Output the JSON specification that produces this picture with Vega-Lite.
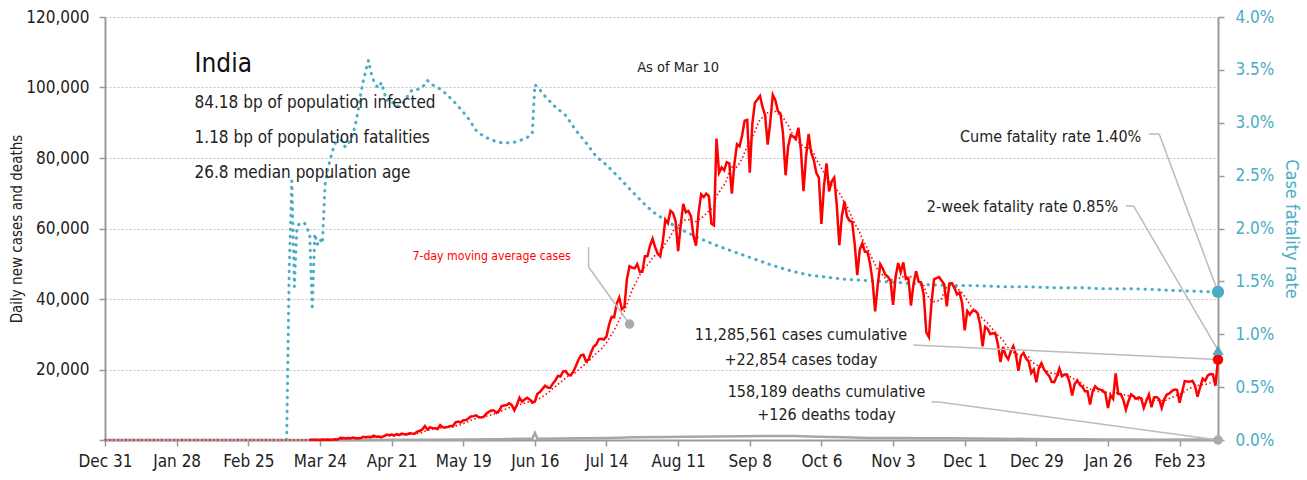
{
"$schema":"https://vega.github.io/schema/vega-lite/v6.json",
"width":1113,"height":423,"autosize":"none",
"padding":{"left":105,"top":17,"right":89,"bottom":40},
"background":"white",
"config":{"font":"DejaVu Sans Condensed, Roboto Condensed, Roboto, sans-serif","view":{"stroke":null},
"axis":{"labelFont":"DejaVu Sans Condensed, Roboto Condensed, Roboto, sans-serif","titleFont":"DejaVu Sans Condensed, Roboto Condensed, Roboto, sans-serif","labelFontSize":17,"labelColor":"#222","titleFontWeight":"normal","titleColor":"#222","domainColor":"#9a9a9a","domainWidth":2,"tickColor":"#9a9a9a","tickWidth":1.5,"tickSize":6,"gridColor":"#c4c4c4","gridDash":[2,2],"gridWidth":1}},
"datasets":{
"cases":[
{"d":"2019-12-31","v":0},{"d":"2020-01-30","v":0},{"d":"2020-02-29","v":0},
{"d":"2020-03-01","v":0},{"d":"2020-03-02","v":2},{"d":"2020-03-03","v":1},{"d":"2020-03-04","v":22},{"d":"2020-03-05","v":2},{"d":"2020-03-06","v":1},{"d":"2020-03-07","v":3},{"d":"2020-03-08","v":5},{"d":"2020-03-09","v":9},{"d":"2020-03-10","v":15},{"d":"2020-03-11","v":8},{"d":"2020-03-12","v":10},{"d":"2020-03-13","v":10},{"d":"2020-03-14","v":23},{"d":"2020-03-15","v":27},{"d":"2020-03-16","v":15},{"d":"2020-03-17","v":29},{"d":"2020-03-18","v":14},{"d":"2020-03-19","v":38},{"d":"2020-03-20","v":50},{"d":"2020-03-21","v":86},{"d":"2020-03-22","v":66},{"d":"2020-03-23","v":103},{"d":"2020-03-24","v":37},{"d":"2020-03-25","v":121},{"d":"2020-03-26","v":70},{"d":"2020-03-27","v":160},{"d":"2020-03-28","v":100},{"d":"2020-03-29","v":78},{"d":"2020-03-30","v":227},{"d":"2020-03-31","v":146},
{"d":"2020-04-01","v":601},{"d":"2020-04-02","v":545},{"d":"2020-04-03","v":478},{"d":"2020-04-04","v":577},{"d":"2020-04-05","v":505},{"d":"2020-04-06","v":704},{"d":"2020-04-07","v":508},{"d":"2020-04-08","v":485},{"d":"2020-04-09","v":591},{"d":"2020-04-10","v":896},{"d":"2020-04-11","v":768},{"d":"2020-04-12","v":918},{"d":"2020-04-13","v":796},{"d":"2020-04-14","v":1211},{"d":"2020-04-15","v":941},{"d":"2020-04-16","v":1007},{"d":"2020-04-17","v":826},{"d":"2020-04-18","v":1076},{"d":"2020-04-19","v":1553},{"d":"2020-04-20","v":1334},{"d":"2020-04-21","v":1540},{"d":"2020-04-22","v":1290},{"d":"2020-04-23","v":1667},{"d":"2020-04-24","v":1408},{"d":"2020-04-25","v":1835},{"d":"2020-04-26","v":1607},{"d":"2020-04-27","v":1561},{"d":"2020-04-28","v":1902},{"d":"2020-04-29","v":1813},{"d":"2020-04-30","v":1801},
{"d":"2020-05-01","v":2396},{"d":"2020-05-02","v":2564},{"d":"2020-05-03","v":2952},{"d":"2020-05-04","v":3932},{"d":"2020-05-05","v":2963},{"d":"2020-05-06","v":3587},{"d":"2020-05-07","v":3364},{"d":"2020-05-08","v":3344},{"d":"2020-05-09","v":3113},{"d":"2020-05-10","v":4213},{"d":"2020-05-11","v":3604},{"d":"2020-05-12","v":3525},{"d":"2020-05-13","v":3722},{"d":"2020-05-14","v":3967},{"d":"2020-05-15","v":3970},{"d":"2020-05-16","v":4987},{"d":"2020-05-17","v":5242},{"d":"2020-05-18","v":4970},{"d":"2020-05-19","v":5611},{"d":"2020-05-20","v":5609},{"d":"2020-05-21","v":6088},{"d":"2020-05-22","v":6654},{"d":"2020-05-23","v":6767},{"d":"2020-05-24","v":6977},{"d":"2020-05-25","v":6535},{"d":"2020-05-26","v":6387},{"d":"2020-05-27","v":6566},{"d":"2020-05-28","v":7466},{"d":"2020-05-29","v":7964},{"d":"2020-05-30","v":8380},{"d":"2020-05-31","v":8392},
{"d":"2020-06-01","v":7700},{"d":"2020-06-02","v":8200},{"d":"2020-06-03","v":9600},{"d":"2020-06-04","v":9800},{"d":"2020-06-05","v":9900},{"d":"2020-06-06","v":10400},{"d":"2020-06-07","v":9900},{"d":"2020-06-08","v":8400},{"d":"2020-06-09","v":10000},{"d":"2020-06-10","v":12000},{"d":"2020-06-11","v":10900},{"d":"2020-06-12","v":11500},{"d":"2020-06-13","v":12000},{"d":"2020-06-14","v":11500},{"d":"2020-06-15","v":10600},{"d":"2020-06-16","v":10900},{"d":"2020-06-17","v":13100},{"d":"2020-06-18","v":13600},{"d":"2020-06-19","v":14500},{"d":"2020-06-20","v":15400},{"d":"2020-06-21","v":14900},{"d":"2020-06-22","v":14800},{"d":"2020-06-23","v":16000},{"d":"2020-06-24","v":16900},{"d":"2020-06-25","v":18200},{"d":"2020-06-26","v":18000},{"d":"2020-06-27","v":19400},{"d":"2020-06-28","v":19600},{"d":"2020-06-29","v":18600},{"d":"2020-06-30","v":18300},
{"d":"2020-07-01","v":19400},{"d":"2020-07-02","v":20900},{"d":"2020-07-03","v":22700},{"d":"2020-07-04","v":24000},{"d":"2020-07-05","v":24200},{"d":"2020-07-06","v":22300},{"d":"2020-07-07","v":22800},{"d":"2020-07-08","v":24900},{"d":"2020-07-09","v":26500},{"d":"2020-07-10","v":27100},{"d":"2020-07-11","v":28600},{"d":"2020-07-12","v":28700},{"d":"2020-07-13","v":28500},{"d":"2020-07-14","v":29400},{"d":"2020-07-15","v":32700},{"d":"2020-07-16","v":34900},{"d":"2020-07-17","v":34800},{"d":"2020-07-18","v":38700},{"d":"2020-07-19","v":40400},{"d":"2020-07-20","v":37100},{"d":"2020-07-21","v":37700},{"d":"2020-07-22","v":45700},{"d":"2020-07-23","v":49300},{"d":"2020-07-24","v":48900},{"d":"2020-07-25","v":48700},{"d":"2020-07-26","v":49900},{"d":"2020-07-27","v":47700},{"d":"2020-07-28","v":47700},{"d":"2020-07-29","v":52100},{"d":"2020-07-30","v":52100},{"d":"2020-07-31","v":55100},
{"d":"2020-08-01","v":57100},{"d":"2020-08-02","v":54700},{"d":"2020-08-03","v":52900},{"d":"2020-08-04","v":52100},{"d":"2020-08-05","v":56300},{"d":"2020-08-06","v":62500},{"d":"2020-08-07","v":61500},{"d":"2020-08-08","v":65000},{"d":"2020-08-09","v":64400},{"d":"2020-08-10","v":62100},{"d":"2020-08-11","v":53600},{"d":"2020-08-12","v":60900},{"d":"2020-08-13","v":67000},{"d":"2020-08-14","v":64600},{"d":"2020-08-15","v":65000},{"d":"2020-08-16","v":63500},{"d":"2020-08-17","v":57900},{"d":"2020-08-18","v":55100},{"d":"2020-08-19","v":64500},{"d":"2020-08-20","v":69700},{"d":"2020-08-21","v":68900},{"d":"2020-08-22","v":69900},{"d":"2020-08-23","v":69200},{"d":"2020-08-24","v":61400},{"d":"2020-08-25","v":60900},{"d":"2020-08-26","v":85500},{"d":"2020-08-27","v":75800},{"d":"2020-08-28","v":77300},{"d":"2020-08-29","v":76500},{"d":"2020-08-30","v":78800},{"d":"2020-08-31","v":78500},
{"d":"2020-09-01","v":69900},{"d":"2020-09-02","v":78400},{"d":"2020-09-03","v":83900},{"d":"2020-09-04","v":83300},{"d":"2020-09-05","v":86400},{"d":"2020-09-06","v":90600},{"d":"2020-09-07","v":90800},{"d":"2020-09-08","v":75800},{"d":"2020-09-09","v":89700},{"d":"2020-09-10","v":95700},{"d":"2020-09-11","v":96600},{"d":"2020-09-12","v":97600},{"d":"2020-09-13","v":94400},{"d":"2020-09-14","v":92100},{"d":"2020-09-15","v":83800},{"d":"2020-09-16","v":90100},{"d":"2020-09-17","v":97900},{"d":"2020-09-18","v":96400},{"d":"2020-09-19","v":93300},{"d":"2020-09-20","v":92600},{"d":"2020-09-21","v":86900},{"d":"2020-09-22","v":75100},{"d":"2020-09-23","v":83300},{"d":"2020-09-24","v":86500},{"d":"2020-09-25","v":86100},{"d":"2020-09-26","v":85400},{"d":"2020-09-27","v":88600},{"d":"2020-09-28","v":82200},{"d":"2020-09-29","v":70600},{"d":"2020-09-30","v":80500},
{"d":"2020-10-01","v":86800},{"d":"2020-10-02","v":81500},{"d":"2020-10-03","v":79500},{"d":"2020-10-04","v":75800},{"d":"2020-10-05","v":74400},{"d":"2020-10-06","v":61300},{"d":"2020-10-07","v":72000},{"d":"2020-10-08","v":78500},{"d":"2020-10-09","v":70500},{"d":"2020-10-10","v":73300},{"d":"2020-10-11","v":74400},{"d":"2020-10-12","v":66700},{"d":"2020-10-13","v":55300},{"d":"2020-10-14","v":63500},{"d":"2020-10-15","v":67700},{"d":"2020-10-16","v":63400},{"d":"2020-10-17","v":62200},{"d":"2020-10-18","v":61900},{"d":"2020-10-19","v":55700},{"d":"2020-10-20","v":46800},{"d":"2020-10-21","v":54000},{"d":"2020-10-22","v":55800},{"d":"2020-10-23","v":53400},{"d":"2020-10-24","v":53400},{"d":"2020-10-25","v":50100},{"d":"2020-10-26","v":45100},{"d":"2020-10-27","v":36500},{"d":"2020-10-28","v":43900},{"d":"2020-10-29","v":49900},{"d":"2020-10-30","v":48600},{"d":"2020-10-31","v":46900},
{"d":"2020-11-01","v":46300},{"d":"2020-11-02","v":45200},{"d":"2020-11-03","v":38300},{"d":"2020-11-04","v":46300},{"d":"2020-11-05","v":50200},{"d":"2020-11-06","v":47600},{"d":"2020-11-07","v":50400},{"d":"2020-11-08","v":45700},{"d":"2020-11-09","v":45900},{"d":"2020-11-10","v":38100},{"d":"2020-11-11","v":44300},{"d":"2020-11-12","v":47900},{"d":"2020-11-13","v":44900},{"d":"2020-11-14","v":44700},{"d":"2020-11-15","v":41100},{"d":"2020-11-16","v":30500},{"d":"2020-11-17","v":29200},{"d":"2020-11-18","v":38600},{"d":"2020-11-19","v":45600},{"d":"2020-11-20","v":45900},{"d":"2020-11-21","v":46200},{"d":"2020-11-22","v":45200},{"d":"2020-11-23","v":44100},{"d":"2020-11-24","v":37900},{"d":"2020-11-25","v":44400},{"d":"2020-11-26","v":44500},{"d":"2020-11-27","v":43100},{"d":"2020-11-28","v":41300},{"d":"2020-11-29","v":41800},{"d":"2020-11-30","v":38800},
{"d":"2020-12-01","v":31100},{"d":"2020-12-02","v":36600},{"d":"2020-12-03","v":35600},{"d":"2020-12-04","v":36600},{"d":"2020-12-05","v":36700},{"d":"2020-12-06","v":36000},{"d":"2020-12-07","v":32900},{"d":"2020-12-08","v":26600},{"d":"2020-12-09","v":32100},{"d":"2020-12-10","v":31500},{"d":"2020-12-11","v":30000},{"d":"2020-12-12","v":30300},{"d":"2020-12-13","v":30200},{"d":"2020-12-14","v":27100},{"d":"2020-12-15","v":22100},{"d":"2020-12-16","v":26400},{"d":"2020-12-17","v":24000},{"d":"2020-12-18","v":22900},{"d":"2020-12-19","v":25100},{"d":"2020-12-20","v":26600},{"d":"2020-12-21","v":24300},{"d":"2020-12-22","v":19600},{"d":"2020-12-23","v":23900},{"d":"2020-12-24","v":24700},{"d":"2020-12-25","v":23100},{"d":"2020-12-26","v":22300},{"d":"2020-12-27","v":19000},{"d":"2020-12-28","v":20000},{"d":"2020-12-29","v":16400},{"d":"2020-12-30","v":20500},{"d":"2020-12-31","v":21800},
{"d":"2021-01-01","v":20000},{"d":"2021-01-02","v":19000},{"d":"2021-01-03","v":18200},{"d":"2021-01-04","v":16500},{"d":"2021-01-05","v":16400},{"d":"2021-01-06","v":18100},{"d":"2021-01-07","v":20300},{"d":"2021-01-08","v":18100},{"d":"2021-01-09","v":18600},{"d":"2021-01-10","v":18600},{"d":"2021-01-11","v":16300},{"d":"2021-01-12","v":12600},{"d":"2021-01-13","v":15900},{"d":"2021-01-14","v":16900},{"d":"2021-01-15","v":15600},{"d":"2021-01-16","v":15100},{"d":"2021-01-17","v":13800},{"d":"2021-01-18","v":13800},{"d":"2021-01-19","v":10100},{"d":"2021-01-20","v":13800},{"d":"2021-01-21","v":15200},{"d":"2021-01-22","v":14500},{"d":"2021-01-23","v":14300},{"d":"2021-01-24","v":14000},{"d":"2021-01-25","v":13200},{"d":"2021-01-26","v":9100},{"d":"2021-01-27","v":12700},{"d":"2021-01-28","v":11700},{"d":"2021-01-29","v":18900},{"d":"2021-01-30","v":13100},{"d":"2021-01-31","v":13000},
{"d":"2021-02-01","v":11400},{"d":"2021-02-02","v":8600},{"d":"2021-02-03","v":11000},{"d":"2021-02-04","v":12900},{"d":"2021-02-05","v":12400},{"d":"2021-02-06","v":11700},{"d":"2021-02-07","v":12100},{"d":"2021-02-08","v":11800},{"d":"2021-02-09","v":9100},{"d":"2021-02-10","v":11100},{"d":"2021-02-11","v":12900},{"d":"2021-02-12","v":9300},{"d":"2021-02-13","v":12100},{"d":"2021-02-14","v":12200},{"d":"2021-02-15","v":11600},{"d":"2021-02-16","v":9100},{"d":"2021-02-17","v":11600},{"d":"2021-02-18","v":12900},{"d":"2021-02-19","v":13200},{"d":"2021-02-20","v":13900},{"d":"2021-02-21","v":14300},{"d":"2021-02-22","v":14200},{"d":"2021-02-23","v":10600},{"d":"2021-02-24","v":13700},{"d":"2021-02-25","v":16700},{"d":"2021-02-26","v":16600},{"d":"2021-02-27","v":16500},{"d":"2021-02-28","v":16800},
{"d":"2021-03-01","v":15500},{"d":"2021-03-02","v":12300},{"d":"2021-03-03","v":14900},{"d":"2021-03-04","v":17400},{"d":"2021-03-05","v":16800},{"d":"2021-03-06","v":18300},{"d":"2021-03-07","v":18700},{"d":"2021-03-08","v":18600},{"d":"2021-03-09","v":15400},{"d":"2021-03-10","v":22854}],
"deaths":[
{"d":"2019-12-31","v":0},{"d":"2020-03-10","v":0},{"d":"2020-03-25","v":3},{"d":"2020-04-05","v":30},{"d":"2020-04-20","v":40},{"d":"2020-05-05","v":100},{"d":"2020-05-20","v":130},{"d":"2020-06-01","v":230},{"d":"2020-06-10","v":350},{"d":"2020-06-15","v":330},{"d":"2020-06-16","v":2003},{"d":"2020-06-17","v":340},{"d":"2020-06-25","v":400},{"d":"2020-07-05","v":500},{"d":"2020-07-15","v":600},{"d":"2020-07-25","v":750},{"d":"2020-08-05","v":850},{"d":"2020-08-15","v":950},{"d":"2020-08-25","v":1000},{"d":"2020-09-05","v":1050},{"d":"2020-09-15","v":1150},{"d":"2020-09-25","v":1100},{"d":"2020-10-05","v":950},{"d":"2020-10-15","v":800},{"d":"2020-10-25","v":600},{"d":"2020-11-05","v":550},{"d":"2020-11-15","v":500},{"d":"2020-11-25","v":500},{"d":"2020-12-05","v":450},{"d":"2020-12-15","v":350},{"d":"2020-12-25","v":300},{"d":"2021-01-05","v":230},{"d":"2021-01-15","v":180},{"d":"2021-01-25","v":140},{"d":"2021-02-05","v":110},{"d":"2021-02-15","v":100},{"d":"2021-02-25","v":110},{"d":"2021-03-05","v":110},{"d":"2021-03-10","v":126}],
"cfr":[
{"d":"2019-12-31","r":0},{"d":"2020-03-11","r":0},{"d":"2020-03-12","r":0.016},{"d":"2020-03-13","r":0.0245},{"d":"2020-03-14","r":0.0145},{"d":"2020-03-15","r":0.02},{"d":"2020-03-16","r":0.0205},{"d":"2020-03-17","r":0.0205},{"d":"2020-03-18","r":0.0205},{"d":"2020-03-19","r":0.02},{"d":"2020-03-20","r":0.0195},{"d":"2020-03-21","r":0.0123},{"d":"2020-03-22","r":0.0195},{"d":"2020-03-23","r":0.0185},{"d":"2020-03-24","r":0.019},{"d":"2020-03-25","r":0.0186},{"d":"2020-03-26","r":0.0241},{"d":"2020-03-27","r":0.0255},{"d":"2020-03-28","r":0.0265},{"d":"2020-03-29","r":0.0274},{"d":"2020-03-30","r":0.028},{"d":"2020-03-31","r":0.0288},{"d":"2020-04-01","r":0.0285},{"d":"2020-04-02","r":0.028},{"d":"2020-04-03","r":0.0277},{"d":"2020-04-04","r":0.028},{"d":"2020-04-05","r":0.0284},{"d":"2020-04-06","r":0.029},{"d":"2020-04-07","r":0.03},{"d":"2020-04-08","r":0.0312},{"d":"2020-04-09","r":0.0328},{"d":"2020-04-10","r":0.034},{"d":"2020-04-11","r":0.035},{"d":"2020-04-12","r":0.0359},{"d":"2020-04-13","r":0.0347},{"d":"2020-04-14","r":0.034},{"d":"2020-04-15","r":0.0335},{"d":"2020-04-16","r":0.0333},{"d":"2020-04-17","r":0.0338},{"d":"2020-04-18","r":0.033},{"d":"2020-04-19","r":0.0321},{"d":"2020-04-20","r":0.0322},{"d":"2020-04-21","r":0.032},{"d":"2020-04-22","r":0.0318},{"d":"2020-04-23","r":0.0315},{"d":"2020-04-24","r":0.0316},{"d":"2020-04-25","r":0.0317},{"d":"2020-04-26","r":0.032},{"d":"2020-04-27","r":0.0324},{"d":"2020-04-28","r":0.0328},{"d":"2020-04-29","r":0.0331},{"d":"2020-04-30","r":0.0331},{"d":"2020-05-02","r":0.0332},{"d":"2020-05-04","r":0.0336},{"d":"2020-05-05","r":0.034},{"d":"2020-05-06","r":0.0338},{"d":"2020-05-08","r":0.0334},{"d":"2020-05-10","r":0.0332},{"d":"2020-05-12","r":0.0328},{"d":"2020-05-15","r":0.0321},{"d":"2020-05-18","r":0.0313},{"d":"2020-05-21","r":0.0304},{"d":"2020-05-24","r":0.0293},{"d":"2020-05-27","r":0.0287},{"d":"2020-05-31","r":0.0283},{"d":"2020-06-03","r":0.0281},{"d":"2020-06-07","r":0.0281},{"d":"2020-06-10","r":0.0283},{"d":"2020-06-13","r":0.0286},{"d":"2020-06-15","r":0.029},{"d":"2020-06-16","r":0.0336},{"d":"2020-06-17","r":0.0334},{"d":"2020-06-20","r":0.0325},{"d":"2020-06-24","r":0.0315},{"d":"2020-06-28","r":0.0307},{"d":"2020-07-02","r":0.0293},{"d":"2020-07-06","r":0.0281},{"d":"2020-07-10","r":0.0268},{"d":"2020-07-14","r":0.026},{"d":"2020-07-19","r":0.0248},{"d":"2020-07-24","r":0.0235},{"d":"2020-07-28","r":0.0225},{"d":"2020-08-01","r":0.0216},{"d":"2020-08-07","r":0.0206},{"d":"2020-08-13","r":0.0198},{"d":"2020-08-20","r":0.019},{"d":"2020-08-27","r":0.0183},{"d":"2020-09-03","r":0.0177},{"d":"2020-09-10","r":0.0171},{"d":"2020-09-17","r":0.0165},{"d":"2020-09-24","r":0.016},{"d":"2020-10-01","r":0.0156},{"d":"2020-10-08","r":0.0154},{"d":"2020-10-15","r":0.0152},{"d":"2020-10-22","r":0.0151},{"d":"2020-10-29","r":0.015},{"d":"2020-11-05","r":0.0149},{"d":"2020-11-15","r":0.0147},{"d":"2020-11-25","r":0.0146},{"d":"2020-12-05","r":0.0146},{"d":"2020-12-15","r":0.0145},{"d":"2020-12-25","r":0.0145},{"d":"2021-01-05","r":0.0144},{"d":"2021-01-15","r":0.0144},{"d":"2021-01-25","r":0.0143},{"d":"2021-02-05","r":0.0143},{"d":"2021-02-15","r":0.0142},{"d":"2021-02-25","r":0.0141},{"d":"2021-03-10","r":0.014}],
"rates":[{"d":"2021-03-10","r":0.014,"k":"cume"},{"d":"2021-03-10","r":0.0085,"k":"twoweek"}],
"notes":[
{"g":"title","d":"2020-02-04","v":104400,"t":"India"},
{"g":"sub","d":"2020-02-04","v":94200,"t":"84.18 bp of population infected"},
{"g":"sub","d":"2020-02-04","v":84260,"t":"1.18 bp of population fatalities"},
{"g":"sub","d":"2020-02-04","v":74330,"t":"26.8 median population age"},
{"g":"asof","d":"2020-08-11","v":104400,"t":"As of Mar 10"},
{"g":"ma","d":"2020-06-30","v":51070,"t":"7-day moving average cases"},
{"g":"lab","d":"2021-02-08","v":84600,"t":"Cume fatality rate 1.40%"},
{"g":"lab","d":"2021-01-30","v":64770,"t":"2-week fatality rate 0.85%"},
{"g":"mid","d":"2020-09-28","v":28370,"t":"11,285,561 cases cumulative"},
{"g":"mid","d":"2020-09-28","v":21280,"t":"+22,854 cases today"},
{"g":"mid","d":"2020-10-08","v":12200,"t":"158,189 deaths cumulative"},
{"g":"mid","d":"2020-10-08","v":5670,"t":"+126 deaths today"}],
"leaders":[
{"d":"2020-07-07","v":54750,"d2":"2020-07-07","v2":49080},
{"d":"2020-07-07","v":49080,"d2":"2020-07-23","v2":32900},
{"d":"2021-02-11","v":86800,"d2":"2021-02-15","v2":86800},
{"d":"2021-02-15","v":86800,"d2":"2021-03-10","v2":42000},
{"d":"2021-02-02","v":66390,"d2":"2021-02-05","v2":66390},
{"d":"2021-02-05","v":66390,"d2":"2021-03-10","v2":25500},
{"d":"2020-11-11","v":26950,"d2":"2021-03-10","v2":22854},
{"d":"2020-11-18","v":10780,"d2":"2020-11-21","v2":10780},
{"d":"2020-11-21","v":10780,"d2":"2021-03-10","v2":0}],
"dots":[{"d":"2020-07-23","v":32900,"k":"ma"},{"d":"2021-03-10","v":0,"k":"deaths"}],
"lastcase":[{"d":"2021-03-10","v":22854}]
},
"encoding":{"x":{"field":"d","type":"temporal","title":null,
"scale":{"domain":[{"year":2019,"month":12,"date":31},{"year":2021,"month":3,"date":10}]},
"axis":{"format":"%b %-d","grid":false,"labelPadding":7,"labelOverlap":false,"labelFlush":false,
"values":[{"year":2019,"month":12,"date":31},{"year":2020,"month":1,"date":28},{"year":2020,"month":2,"date":25},{"year":2020,"month":3,"date":24},{"year":2020,"month":4,"date":21},{"year":2020,"month":5,"date":19},{"year":2020,"month":6,"date":16},{"year":2020,"month":7,"date":14},{"year":2020,"month":8,"date":11},{"year":2020,"month":9,"date":8},{"year":2020,"month":10,"date":6},{"year":2020,"month":11,"date":3},{"year":2020,"month":12,"date":1},{"year":2020,"month":12,"date":29},{"year":2021,"month":1,"date":26},{"year":2021,"month":2,"date":23}]}}},
"layer":[
{"data":{"name":"cfr"},"mark":{"type":"line","color":"#4bacc6","strokeWidth":3,"strokeDash":[0.5,6.5],"strokeCap":"round","interpolate":"linear"},
"encoding":{"y":{"field":"r","type":"quantitative","scale":{"domain":[0,0.04]},
"axis":{"orient":"right","format":".1%","values":[0,0.005,0.01,0.015,0.02,0.025,0.03,0.035,0.04],"grid":false,"labelColor":"#4bacc6","labelPadding":11,"title":"Case fatality rate","titleColor":"#4bacc6","titleFontSize":18,"titlePadding":8}}}},
{"layer":[
{"data":{"name":"deaths"},"mark":{"type":"line","color":"#a6a6a6","strokeWidth":2.5},
"encoding":{"y":{"field":"v","type":"quantitative","scale":{"domain":[0,120000]},
"axis":{"orient":"left","values":[0,20000,40000,60000,80000,100000,120000],"labelExpr":"datum.value == 0 ? '' : format(datum.value, ',')","grid":true,"labelPadding":10,"title":"Daily new cases and deaths","titleFontSize":15,"titlePadding":1}}}},
{"data":{"name":"cases"},"transform":[{"filter":"time(datum.d) >= time(datetime(2020, 2, 20))"}],"mark":{"type":"line","color":"#ff0000","strokeWidth":2.5},
"encoding":{"y":{"field":"v","type":"quantitative"}}},
{"data":{"name":"cases"},"transform":[{"window":[{"op":"mean","field":"v","as":"ma"}],"frame":[-6,0],"sort":[{"field":"d"}]}],"mark":{"type":"line","color":"#ff0000","strokeWidth":1.6,"strokeDash":[1.5,2.5]},
"encoding":{"y":{"field":"ma","type":"quantitative"}}},
{"data":{"name":"leaders"},"mark":{"type":"rule","color":"#bbbbbb","strokeWidth":1.5},
"encoding":{"y":{"field":"v","type":"quantitative"},"x2":{"field":"d2"},"y2":{"field":"v2"}}},
{"data":{"name":"dots"},"mark":{"type":"point","filled":true,"color":"#aaaaaa","size":90,"opacity":1},
"encoding":{"y":{"field":"v","type":"quantitative"}}},
{"data":{"name":"lastcase"},"mark":{"type":"point","filled":true,"color":"#ff0000","size":110,"opacity":1},
"encoding":{"y":{"field":"v","type":"quantitative"}}},
{"data":{"name":"notes"},"transform":[{"filter":"datum.g == 'title'"}],"mark":{"type":"text","align":"left","baseline":"alphabetic","fontSize":26,"color":"#111"},
"encoding":{"y":{"field":"v","type":"quantitative"},"text":{"field":"t"}}},
{"data":{"name":"notes"},"transform":[{"filter":"datum.g == 'sub'"}],"mark":{"type":"text","align":"left","baseline":"alphabetic","fontSize":17,"color":"#222"},
"encoding":{"y":{"field":"v","type":"quantitative"},"text":{"field":"t"}}},
{"data":{"name":"notes"},"transform":[{"filter":"datum.g == 'asof'"}],"mark":{"type":"text","align":"center","baseline":"alphabetic","fontSize":14.5,"color":"#222"},
"encoding":{"y":{"field":"v","type":"quantitative"},"text":{"field":"t"}}},
{"data":{"name":"notes"},"transform":[{"filter":"datum.g == 'ma'"}],"mark":{"type":"text","align":"right","baseline":"alphabetic","fontSize":12.2,"color":"#ff0000"},
"encoding":{"y":{"field":"v","type":"quantitative"},"text":{"field":"t"}}},
{"data":{"name":"notes"},"transform":[{"filter":"datum.g == 'lab'"}],"mark":{"type":"text","align":"right","baseline":"alphabetic","fontSize":16,"color":"#222"},
"encoding":{"y":{"field":"v","type":"quantitative"},"text":{"field":"t"}}},
{"data":{"name":"notes"},"transform":[{"filter":"datum.g == 'mid'"}],"mark":{"type":"text","align":"center","baseline":"alphabetic","fontSize":16,"color":"#222"},
"encoding":{"y":{"field":"v","type":"quantitative"},"text":{"field":"t"}}}
]},
{"data":{"name":"rates"},"mark":{"type":"point","filled":true,"color":"#4bacc6","opacity":1},
"encoding":{"y":{"field":"r","type":"quantitative","scale":{"domain":[0,0.04]},"axis":null},
"shape":{"field":"k","type":"nominal","scale":{"domain":["cume","twoweek"],"range":["circle","triangle-up"]},"legend":null},
"size":{"field":"k","type":"nominal","scale":{"domain":["cume","twoweek"],"range":[150,130]},"legend":null}}}
],
"resolve":{"scale":{"y":"independent"}}
}
